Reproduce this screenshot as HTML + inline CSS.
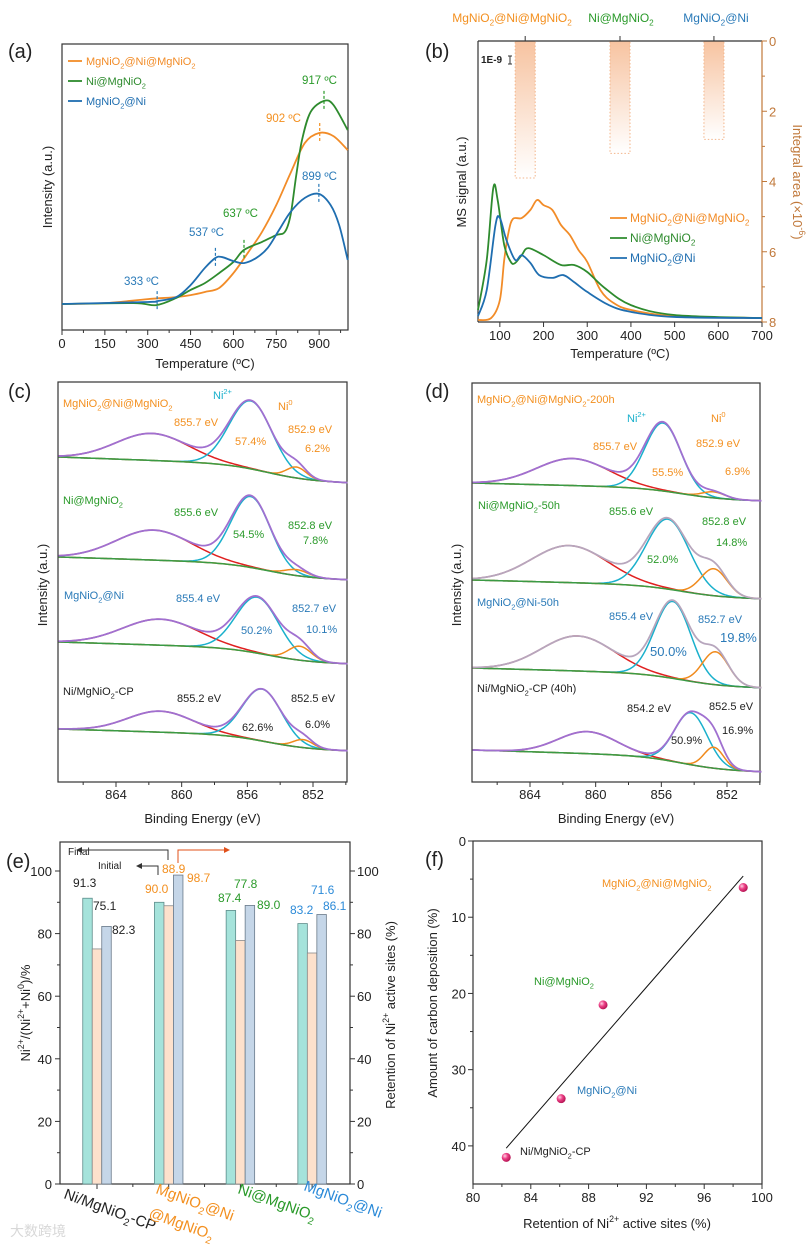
<!DOCTYPE html>
<html><head><meta charset="utf-8"><style>
html,body{margin:0;padding:0;background:#fff;}
svg{display:block;font-family:"Liberation Sans","Noto Sans CJK SC",sans-serif;}
</style></head><body>
<svg id="fig" width="806" height="1248" viewBox="0 0 806 1248" xmlns="http://www.w3.org/2000/svg">
<defs>
<linearGradient id="barGrad" x1="0" y1="0" x2="0" y2="1"><stop offset="0" stop-color="#f7c3a0"/><stop offset="1" stop-color="#ffffff"/></linearGradient>
<radialGradient id="ballGrad" cx="0.35" cy="0.35" r="0.7"><stop offset="0" stop-color="#ffd0e4"/><stop offset="0.45" stop-color="#ec3f85"/><stop offset="1" stop-color="#b0104f"/></radialGradient>
</defs>
</svg>
<script>
// ---------- DATA: panel (a) H2-TPR ----------
const aOrangeT=[0,150,300,400,450,500,550,600,650,700,750,800,850,900,950,1000];
const aOrangeI=[9.1,9.4,10.8,11.5,12.2,13.3,14.7,19.9,26.9,34.3,43.7,54.9,65.4,68.9,67.8,62.9];
const aGreenT=[0,250,330,400,450,500,550,600,637,700,750,780,800,820,840,870,917,950,1000];
const aGreenI=[9.1,9.4,8.7,11.2,14,16.4,19.9,23.8,28,30.8,33.2,34.3,40.2,54.2,66.4,76.2,80.1,78.7,69.9];
const aBlueT=[0,300,333,400,450,500,537,560,600,637,680,720,760,800,850,899,940,970,1000];
const aBlueI=[9.1,9.8,10.1,11.5,15.7,21.7,25.2,25.5,24.1,23.4,25.2,28.7,35,41.3,46.2,47.6,43.7,36.7,24.5];
const aXTicks=[0,150,300,450,600,750,900];
// ---------- DATA: panel (b) TPO-MS ----------
const bOrangeT=[50,80,100,110,120,130,150,170,185,200,220,240,260,280,300,330,360,400,500,700];
const bOrangeI=[0.7,1.4,7.8,22.1,32,36.7,37,39.9,43.4,41.6,39.9,34.5,31,25.6,21.4,11.4,6.8,4.3,2.1,1.4];
const bGreenT=[50,70,85,95,110,125,135,150,165,200,240,270,300,340,400,500,700];
const bGreenI=[4.3,22.1,47.7,43.4,27.4,21.4,21,23.8,26.3,23.8,20.3,20.3,17.8,12.1,6,2.5,1.4];
const bBlueT=[50,70,90,100,115,135,150,170,190,220,245,270,300,350,400,500,700];
const bBlueI=[2.1,11.4,34.5,37,29.2,22.1,23.8,21,16.7,15.7,16.7,14.2,10.7,6,3.6,1.8,1.4];
const bIntegralT=[158,375,590];
const bIntegralArea=[3.9,3.2,2.8];
const bXTicks=[100,200,300,400,500,600,700];
const bRTicks=[0,2,4,6,8];
// ---------- DATA: panel (c) XPS fresh ----------
const cSatE=[861.8,861.7,861.3,861.3], cSatA=[27,30,26,21], cSatW=[2.2,2.3,2.3,2.0];
const cNi2E=[855.8,855.8,855.4,855.1], cNi2A=[68,71,56,52], cNi2W=[1.3,1.2,1.3,1.2];
const cNi0E=[853.0,853.0,852.8,852.6], cNi0A=[11,6,14,8], cNi0W=[0.6,0.7,0.7,0.6];
const cBgStep=[26,23,22,22];
// ---------- DATA: panel (d) XPS spent ----------
const dSatE=[861.4,861.6,861.1,860.5], dSatA=[27,37,35,22], dSatW=[2.2,2.3,2.2,1.8];
const dNi2E=[855.9,855.6,855.3,854.2], dNi2A=[68,70,77,52], dNi2W=[1.1,1.3,1.1,1.0];
const dNi0E=[852.8,852.8,852.7,852.8], dNi0A=[6,27,33,21], dNi0W=[0.7,0.8,0.8,0.6];
const dBgStep=[18,19,20,22];
const xpsTicks=[864,860,856,852];
// ---------- DATA: panel (e) bars ----------
const eCats=['Ni/MgNiO{_2}-CP','MgNiO{_2}@Ni','Ni@MgNiO{_2}','MgNiO{_2}@Ni'];
const eInitial=[91.3,90.0,87.4,83.2];
const eFinal=[75.1,88.9,77.8,73.8];
const eRetention=[82.3,98.7,89.0,86.1];
const eInitialLbl=['91.3','90.0','87.4','83.2'];
const eFinalLbl=['75.1','88.9','77.8','71.6'];
const eRetLbl=['82.3','98.7','89.0','86.1'];
const eTicks=[0,20,40,60,80,100];
// ---------- DATA: panel (f) scatter ----------
const fNames=['MgNiO{_2}@Ni@MgNiO{_2}','Ni@MgNiO{_2}','MgNiO{_2}@Ni','Ni/MgNiO{_2}-CP'];
const fRetention=[98.7,89.0,86.1,82.3];
const fCarbon=[6.1,21.5,33.8,41.5];
const fFitX=[82.3,98.7];
const fFitY=[40.3,4.6];
const fXTicks=[80,84,88,92,96,100];
const fYTicks=[0,10,20,30,40];

const NS='http://www.w3.org/2000/svg';
const svg=document.getElementById('fig');
const OR='#f39020',GR='#2a9a2a',BL='#2a7ab8',BK='#222';
function lin(d0,d1,r0,r1){return v=>r0+(v-d0)*(r1-r0)/(d1-d0);}
function mk(tag,attrs,name,parent){
  const el=document.createElementNS(NS,tag);
  for(const k in attrs) el.setAttribute(k,attrs[k]);
  
  
  (parent||svg).appendChild(el);
  return el;
}
function txt(x,y,s,opt,name){
  opt=opt||{};
  const fs=opt.size||12;
  const a={x:x,y:y,'font-size':fs,fill:opt.fill||BK};
  if(opt.anchor) a['text-anchor']=opt.anchor;
  if(opt.transform) a.transform=opt.transform;
  if(opt.weight) a['font-weight']=opt.weight;
  const t=mk('text',a,name);
  const re=/\{([_^])([^}]*)\}/g;let last=0,m,shift=0;
  function plain(str){if(!str)return;const sp=document.createElementNS(NS,'tspan');if(shift){sp.setAttribute('dy',-shift);shift=0;}sp.textContent=str;t.appendChild(sp);}
  while((m=re.exec(s))){
    plain(s.slice(last,m.index));
    const sp=document.createElementNS(NS,'tspan');
    const d=(m[1]=='_'?0.3:-0.45)*fs;
    sp.setAttribute('dy',d-shift);shift=d;
    sp.setAttribute('font-size',fs*0.68);
    sp.textContent=m[2];t.appendChild(sp);last=re.lastIndex;
  }
  plain(s.slice(last));
  if(shift){const sp=document.createElementNS(NS,'tspan');sp.setAttribute('dy',-shift);sp.textContent='\u200b';t.appendChild(sp);}
  return t;
}
function smooth(pts){
  let d='M'+pts[0][0].toFixed(2)+','+pts[0][1].toFixed(2);
  for(let i=0;i<pts.length-1;i++){
    const p0=pts[Math.max(0,i-1)],p1=pts[i],p2=pts[i+1],p3=pts[Math.min(pts.length-1,i+2)];
    const c1=[p1[0]+(p2[0]-p0[0])/6,p1[1]+(p2[1]-p0[1])/6];
    const c2=[p2[0]-(p3[0]-p1[0])/6,p2[1]-(p3[1]-p1[1])/6];
    d+='C'+c1[0].toFixed(2)+','+c1[1].toFixed(2)+' '+c2[0].toFixed(2)+','+c2[1].toFixed(2)+' '+p2[0].toFixed(2)+','+p2[1].toFixed(2);
  }
  return d;
}
function poly(pts){return 'M'+pts.map(p=>p[0].toFixed(2)+','+p[1].toFixed(2)).join('L');}
function box(x0,y0,x1,y1,name){mk('rect',{x:x0,y:y0,width:x1-x0,height:y1-y0,fill:'none',stroke:'#333','stroke-width':1.2},name);}

// panel labels
txt(8,58,'(a)',{size:20},'panel-label-a');
txt(425,58,'(b)',{size:20},'panel-label-b');
txt(8,398,'(c)',{size:20},'panel-label-c');
txt(425,398,'(d)',{size:20},'panel-label-d');
txt(6,868,'(e)',{size:20},'panel-label-e');
txt(425,866,'(f)',{size:20},'panel-label-f');

// ===== Panel (a) =====
(function(){
  const X=lin(0,1001,62,348),Y=lin(0,100,330,44);
  box(62,44,348,330,'panel-a-frame');
  aXTicks.forEach(t=>{mk('line',{x1:X(t),y1:330,x2:X(t),y2:335,stroke:'#333'},'a-x-tick');txt(X(t),348,String(t),{size:13,anchor:'middle'},'a-x-tick-label');});
  for(let t=75;t<1000;t+=150){mk('line',{x1:X(t),y1:330,x2:X(t),y2:333,stroke:'#333'},'a-x-minor-tick');}
  txt(205,368,'Temperature (ºC)',{size:13,anchor:'middle'},'a-x-axis-title');
  txt(52,187,'Intensity (a.u.)',{size:13,anchor:'middle',transform:'rotate(-90 52 187)'},'a-y-axis-title');
  const series=[[aOrangeT,aOrangeI,'#f28c28','a-line-mgnio2-ni-mgnio2'],[aGreenT,aGreenI,'#2e8b2e','a-line-ni-mgnio2'],[aBlueT,aBlueI,'#1f6eb0','a-line-mgnio2-ni']];
  series.forEach(s=>{mk('path',{d:smooth(s[0].map((t,i)=>[X(t),Y(s[1][i])])),fill:'none',stroke:s[2],'stroke-width':1.8},s[3]);});
  // legend
  [['MgNiO{_2}@Ni@MgNiO{_2}','#f28c28',61],['Ni@MgNiO{_2}','#2e8b2e',81],['MgNiO{_2}@Ni','#1f6eb0',101]].forEach(l=>{
    mk('line',{x1:68,y1:l[2],x2:82,y2:l[2],stroke:l[1],'stroke-width':1.8},'a-legend-swatch');
    txt(86,l[2]+4,l[0],{size:11,fill:l[1]},'a-legend-entry');
  });
  // peak markers
  [[917,80.1,GR,'917 ºC',302,84],[902,68.9,OR,'902 ºC',266,122],[899,47.6,BL,'899 ºC',302,180],[637,28,GR,'637 ºC',223,217],[537,25.2,BL,'537 ºC',189,236],[333,10.1,BL,'333 ºC',124,285]].forEach(p=>{
    mk('line',{x1:X(p[0]),y1:Y(p[1])-10,x2:X(p[0]),y2:Y(p[1])+10,stroke:p[2],'stroke-dasharray':'3,2','stroke-width':1.2},'a-peak-marker');
    txt(p[4],p[5],p[3],{size:11.5,fill:p[2]},'a-peak-label');
  });
})();

// ===== Panel (b) =====
(function(){
  const X=lin(50,700,478,762),Y=lin(0,100,322,41),YR=lin(0,8,41,322);
  const BR='#c0783a';
  bIntegralT.forEach((t,i)=>{
    mk('rect',{x:X(t)-10,y:41,width:20,height:YR(bIntegralArea[i])-41,fill:'url(#barGrad)',stroke:'#f3b58a','stroke-dasharray':'1.5,2','stroke-width':1},'b-integral-bar');
    mk('line',{x1:X(t),y1:41,x2:X(t),y2:36,stroke:'#333'},'b-top-tick');
  });
  mk('line',{x1:478,y1:41,x2:478,y2:322,stroke:'#333','stroke-width':1.2},'b-left-axis');
  mk('line',{x1:478,y1:322,x2:762,y2:322,stroke:'#333','stroke-width':1.2},'b-bottom-axis');
  mk('line',{x1:478,y1:41,x2:762,y2:41,stroke:'#333','stroke-width':1.2},'b-top-axis');
  mk('line',{x1:762,y1:41,x2:762,y2:322,stroke:BR,'stroke-width':1.2},'b-right-axis');
  bXTicks.forEach(t=>{mk('line',{x1:X(t),y1:322,x2:X(t),y2:327,stroke:'#333'},'b-x-tick');txt(X(t),340,String(t),{size:13,anchor:'middle'},'b-x-tick-label');});
  bRTicks.forEach(t=>{mk('line',{x1:762,y1:YR(t),x2:767,y2:YR(t),stroke:BR},'b-right-tick');txt(769,YR(t)+5,String(t),{size:13,fill:BR},'b-right-tick-label');});
  for(let t=1;t<8;t+=2) mk('line',{x1:762,y1:YR(t),x2:765,y2:YR(t),stroke:BR},'b-right-minor-tick');
  txt(620,358,'Temperature (ºC)',{size:13,anchor:'middle'},'b-x-axis-title');
  txt(466,182,'MS signal (a.u.)',{size:13,anchor:'middle',transform:'rotate(-90 466 182)'},'b-y-axis-title');
  txt(793,182,'Integral area (×10{^-6})',{size:13,anchor:'middle',fill:BR,transform:'rotate(90 793 182)'},'b-right-axis-title');
  txt(512,22,'MgNiO{_2}@Ni@MgNiO{_2}',{size:12,anchor:'middle',fill:OR},'b-top-label-1');
  txt(621,22,'Ni@MgNiO{_2}',{size:12,anchor:'middle',fill:GR},'b-top-label-2');
  txt(716,22,'MgNiO{_2}@Ni',{size:12,anchor:'middle',fill:BL},'b-top-label-3');
  txt(481,63,'1E-9',{size:10,weight:'bold'},'b-scale-label');
  mk('path',{d:'M508,56h4M510,56v8M508,64h4',stroke:'#333',fill:'none'},'b-scale-bar');
  const series=[[bOrangeT,bOrangeI,'#f28c28','b-line-mgnio2-ni-mgnio2'],[bGreenT,bGreenI,'#2e8b2e','b-line-ni-mgnio2'],[bBlueT,bBlueI,'#1f6eb0','b-line-mgnio2-ni']];
  series.forEach(s=>{mk('path',{d:smooth(s[0].map((t,i)=>[X(t),Y(s[1][i])])),fill:'none',stroke:s[2],'stroke-width':1.8},s[3]);});
  [['MgNiO{_2}@Ni@MgNiO{_2}','#f28c28',218],['Ni@MgNiO{_2}','#2e8b2e',238],['MgNiO{_2}@Ni','#1f6eb0',258]].forEach(l=>{
    mk('line',{x1:610,y1:l[2],x2:627,y2:l[2],stroke:l[1],'stroke-width':1.8},'b-legend-swatch');
    txt(630,l[2]+4,l[0],{size:12,fill:l[1]},'b-legend-entry');
  });
})();

// ===== XPS panels =====
function xps(pfx,x0,x1,top,bot,X,offsets,sE,sA,sW,nE,nA,nW,zE,zA,zW,step,envCols){
  box(x0,top,x1,bot,pfx+'-frame');
  xpsTicks.forEach(e=>{mk('line',{x1:X(e),y1:bot,x2:X(e),y2:bot+5,stroke:'#333'},pfx+'-x-tick');txt(X(e),799,String(e),{size:13,anchor:'middle'},pfx+'-x-tick-label');});
  for(let e=866;e>=850;e-=4) mk('line',{x1:X(e),y1:bot,x2:X(e),y2:bot+3,stroke:'#333'},pfx+'-x-minor-tick');
  txt((x0+x1)/2,823,'Binding Energy (eV)',{size:13,anchor:'middle'},pfx+'-x-axis-title');
  const ty=(x0+40)/1; 
  txt(x0-11,585,'Intensity (a.u.)',{size:13,anchor:'middle',transform:'rotate(-90 '+(x0-11)+' 585)'},pfx+'-y-axis-title');
  const Emax=867.5,Emin=849.9;
  const g=(E,c,a,w)=>a*Math.exp(-0.5*((E-c)/w)*((E-c)/w));
  const sFn=E=>0.4*(E-Emin)/(Emax-Emin)+0.6/(1+Math.exp(-(E-854.8)/1.3));
  offsets.forEach((base,i)=>{
    const Es=[];for(let E=Emax;E>=Emin-0.001;E-=0.1)Es.push(E);
    const bg=E=>step[i]*sFn(E);
    const mkLine=(f,col,nm,w)=>mk('path',{d:poly(Es.map(E=>[X(E),base-f(E)])),fill:'none',stroke:col,'stroke-width':w||1.5},nm);
    mkLine(E=>bg(E)+g(E,sE[i],sA[i],sW[i]),'#e02020',pfx+'-satellite-peak-'+(i+1));
    mkLine(E=>bg(E)+g(E,nE[i],nA[i],nW[i]),'#1ab0cc',pfx+'-ni2-peak-'+(i+1));
    mkLine(E=>bg(E)+g(E,zE[i],zA[i],zW[i]),'#f08a1c',pfx+'-ni0-peak-'+(i+1));
    mkLine(bg,'#3a9a45',pfx+'-background-'+(i+1));
    mkLine(E=>bg(E)+g(E,sE[i],sA[i],sW[i])+g(E,nE[i],nA[i],nW[i])+g(E,zE[i],zA[i],zW[i]),envCols[i],pfx+'-envelope-'+(i+1),1.8);
  });
}
xps('c',58,347,382,782,lin(864,852,116,313),[483,580,664,751],cSatE,cSatA,cSatW,cNi2E,cNi2A,cNi2W,cNi0E,cNi0A,cNi0W,cBgStep,['#a070d0','#a070d0','#a070d0','#a070d0']);
xps('d',472,760,383,782,lin(864,852,530,727),[501,599,688,772],dSatE,dSatA,dSatW,dNi2E,dNi2A,dNi2W,dNi0E,dNi0A,dNi0W,dBgStep,['#a070d0','#b7a6bd','#b7a6bd','#a070d0']);
// (c) annotations
[[63,407,'MgNiO{_2}@Ni@MgNiO{_2}',OR],[213,399,'Ni{^2+}','#1ab0cc'],[278,410,'Ni{^0}',OR],[174,426,'855.7 eV',OR],[288,433,'852.9 eV',OR],[235,445,'57.4%',OR],[305,452,'6.2%',OR],
 [63,504,'Ni@MgNiO{_2}',GR],[174,516,'855.6 eV',GR],[288,529,'852.8 eV',GR],[233,538,'54.5%',GR],[303,544,'7.8%',GR],
 [64,599,'MgNiO{_2}@Ni',BL],[176,602,'855.4 eV',BL],[292,612,'852.7 eV',BL],[241,634,'50.2%',BL],[306,633,'10.1%',BL],
 [63,695,'Ni/MgNiO{_2}-CP',BK],[177,702,'855.2 eV',BK],[291,702,'852.5 eV',BK],[242,731,'62.6%',BK],[305,728,'6.0%',BK]
].forEach(a=>txt(a[0],a[1],a[2],{size:11,fill:a[3]},'c-annotation'));
[[477,403,'MgNiO{_2}@Ni@MgNiO{_2}-200h',OR],[627,422,'Ni{^2+}','#1ab0cc'],[711,422,'Ni{^0}',OR],[593,450,'855.7 eV',OR],[696,447,'852.9 eV',OR],[652,476,'55.5%',OR],[725,475,'6.9%',OR],
 [478,509,'Ni@MgNiO{_2}-50h',GR],[609,515,'855.6 eV',GR],[702,525,'852.8 eV',GR],[716,546,'14.8%',GR],[647,563,'52.0%',GR],
 [477,606,'MgNiO{_2}@Ni-50h',BL],[609,620,'855.4 eV',BL],[698,623,'852.7 eV',BL],
 [477,692,'Ni/MgNiO{_2}-CP (40h)',BK],[627,712,'854.2 eV',BK],[709,710,'852.5 eV',BK],[671,744,'50.9%',BK],[722,734,'16.9%',BK]
].forEach(a=>txt(a[0],a[1],a[2],{size:11,fill:a[3]},'d-annotation'));
txt(720,642,'19.8%',{size:13,fill:BL},'d-annotation');
txt(650,656,'50.0%',{size:13,fill:BL},'d-annotation');

// ===== Panel (e) =====
(function(){
  const Y=lin(0,100,1184,871);
  const cx=i=>97+71.7*i;
  box(60,842,350,1184,'e-frame');
  eTicks.forEach(t=>{
    mk('line',{x1:60,y1:Y(t),x2:55,y2:Y(t),stroke:'#333'},'e-left-tick');
    txt(52,Y(t)+5,String(t),{size:13,anchor:'end'},'e-left-tick-label');
    mk('line',{x1:350,y1:Y(t),x2:355,y2:Y(t),stroke:'#333'},'e-right-tick');
    txt(357,Y(t)+5,String(t),{size:13},'e-right-tick-label');
  });
  for(let t=10;t<110;t+=20){mk('line',{x1:60,y1:Y(t),x2:57,y2:Y(t),stroke:'#333'},'e-left-minor');mk('line',{x1:350,y1:Y(t),x2:353,y2:Y(t),stroke:'#333'},'e-right-minor');}
  txt(30,1013,'Ni{^2+}/(Ni{^2+}+Ni{^0})/%',{size:13,anchor:'middle',transform:'rotate(-90 30 1013)'},'e-left-axis-title');
  txt(395,1015,'Retention of Ni{^2+} active sites (%)',{size:13,anchor:'middle',transform:'rotate(-90 395 1015)'},'e-right-axis-title');
  const lblCols=[BK,OR,GR,'#2b8ad8'];
  eCats.forEach((c,i)=>{
    mk('line',{x1:cx(i),y1:1184,x2:cx(i),y2:1189,stroke:'#333'},'e-x-tick');
    mk('rect',{x:cx(i)-14.25,y:Y(eInitial[i]),width:9.5,height:Y(0)-Y(eInitial[i]),fill:'#a5e3db',stroke:'#5c8c8a','stroke-width':0.8},'e-bar-initial');
    mk('rect',{x:cx(i)-4.75,y:Y(eFinal[i]),width:9.5,height:Y(0)-Y(eFinal[i]),fill:'#fde1cc',stroke:'#8a8a8a','stroke-width':0.8},'e-bar-final');
    mk('rect',{x:cx(i)+4.75,y:Y(eRetention[i]),width:9.5,height:Y(0)-Y(eRetention[i]),fill:'#c5d6e8',stroke:'#6a7a8a','stroke-width':0.8},'e-bar-retention');
  });
  for(let i=0;i<3;i++) mk('line',{x1:cx(i)+35.85,y1:1184,x2:cx(i)+35.85,y2:1187,stroke:'#333'},'e-x-minor-tick');
  const lp=[[[73,887],[93,910],[112,934]],[[145,893],[162,873],[187,882]],[[218,902],[234,888],[257,909]],[[290,914],[311,894],[323,910]]];
  eCats.forEach((c,i)=>{
    txt(lp[i][0][0],lp[i][0][1],eInitialLbl[i],{size:12,fill:lblCols[i]},'e-value-initial');
    txt(lp[i][1][0],lp[i][1][1],eFinalLbl[i],{size:12,fill:lblCols[i]},'e-value-final');
    txt(lp[i][2][0],lp[i][2][1],eRetLbl[i],{size:12,fill:lblCols[i]},'e-value-retention');
  });
  // category labels
  txt(63,1198,eCats[0],{size:15,fill:BK,transform:'rotate(20 63 1198)'},'e-category-label');
  txt(155,1193,eCats[1],{size:15,fill:OR,transform:'rotate(20 155 1193)'},'e-category-label');
  txt(148,1217,'@MgNiO{_2}',{size:15,fill:OR,transform:'rotate(20 148 1217)'},'e-category-label');
  txt(237,1193,eCats[2],{size:15,fill:GR,transform:'rotate(20 237 1193)'},'e-category-label');
  txt(303,1190,eCats[3],{size:15,fill:'#2b8ad8',transform:'rotate(20 303 1190)'},'e-category-label');
  // arrows
  txt(68,855,'Final',{size:10},'e-final-label');
  mk('path',{d:'M168,860V850H80',fill:'none',stroke:'#333'},'e-final-arrow');
  mk('path',{d:'M76,850l6,-3v6z',fill:'#333'},'e-final-arrowhead');
  txt(98,869,'Initial',{size:10},'e-initial-label');
  mk('path',{d:'M158,875V866H140',fill:'none',stroke:'#333'},'e-initial-arrow');
  mk('path',{d:'M136,866l6,-3v6z',fill:'#333'},'e-initial-arrowhead');
  mk('path',{d:'M178,863V850H225',fill:'none',stroke:'#e0501a'},'e-retention-arrow');
  mk('path',{d:'M230,850l-6,-3v6z',fill:'#e0501a'},'e-retention-arrowhead');
  txt(10,1236,'大数跨境',{size:14,fill:'#d8d8d8'},'watermark');
})();

// ===== Panel (f) =====
(function(){
  const X=lin(80,100,473,762),Y=lin(0,45,841,1184);
  box(473,841,762,1184,'f-frame');
  fXTicks.forEach(t=>{mk('line',{x1:X(t),y1:1184,x2:X(t),y2:1189,stroke:'#333'},'f-x-tick');txt(X(t),1202,String(t),{size:13,anchor:'middle'},'f-x-tick-label');});
  for(let t=82;t<100;t+=4) mk('line',{x1:X(t),y1:1184,x2:X(t),y2:1187,stroke:'#333'},'f-x-minor-tick');
  fYTicks.forEach(t=>{mk('line',{x1:473,y1:Y(t),x2:468,y2:Y(t),stroke:'#333'},'f-y-tick');txt(466,Y(t)+5,String(t),{size:13,anchor:'end'},'f-y-tick-label');});
  for(let t=5;t<45;t+=10) mk('line',{x1:473,y1:Y(t),x2:470,y2:Y(t),stroke:'#333'},'f-y-minor-tick');
  txt(617,1228,'Retention of Ni{^2+} active sites (%)',{size:13,anchor:'middle'},'f-x-axis-title');
  txt(437,1003,'Amount of carbon deposition (%)',{size:13,anchor:'middle',transform:'rotate(-90 437 1003)'},'f-y-axis-title');
  mk('line',{x1:X(fFitX[0]),y1:Y(fFitY[0]),x2:X(fFitX[1]),y2:Y(fFitY[1]),stroke:'#111','stroke-width':1},'f-fit-line');
  const cols=[OR,GR,BL,BK];
  const lp=[[602,887],[534,985],[577,1094],[520,1155]];
  fRetention.forEach((r,i)=>{
    mk('circle',{cx:X(r),cy:Y(fCarbon[i]),r:4.5,fill:'url(#ballGrad)'},'f-point');
    txt(lp[i][0],lp[i][1],fNames[i],{size:11,fill:cols[i]},'f-point-label');
  });
})();
</script>
</body></html>
